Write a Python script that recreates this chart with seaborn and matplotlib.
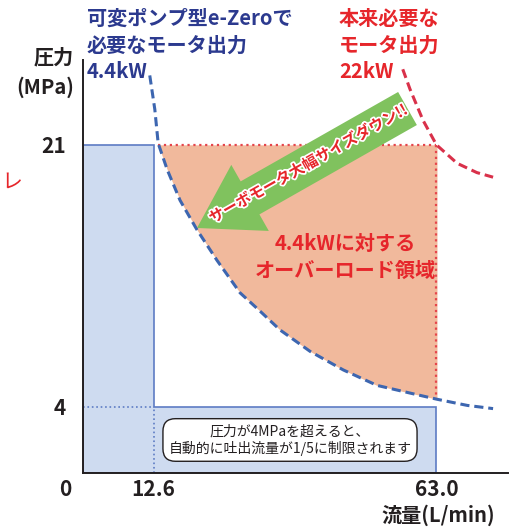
import numpy as np
import matplotlib
matplotlib.use('Agg')
import matplotlib.pyplot as plt
import seaborn as sns
from matplotlib.patches import Polygon, FancyArrow
from matplotlib import patheffects, transforms

# values
flow_ticks = [12.6, 63.0]          # L/min
pressure_ticks = [4, 21]           # MPa
flow_small, flow_full = flow_ticks
p_cut, p_max = pressure_ticks

# 4.4kW curve (variable pump e-Zero)
blue_q = [11.9, 12.8, 13.4, 15.0, 17.3, 20.3, 23.9, 28.0, 31.6, 35.1, 40.5, 46.4, 52.4, 58.3, 63.1, 68.5, 73.1]
blue_p = [25.5, 23.3, 21.1, 19.4, 17.4, 15.5, 13.5, 11.4, 10.2, 9.0, 7.6, 6.4, 5.4, 4.9, 4.5, 4.1, 3.9]
# 22kW curve (originally required)
red_q = [57.0, 58.3, 60.6, 63.0, 66.7, 70.2, 73.1]
red_p = [25.9, 24.6, 22.6, 21.0, 19.8, 19.2, 18.9]

BLUE_TXT = '#2C3A8F'
RED_TXT = '#E6262B'
DARK = '#231F20'

sns.set_style('white')
plt.rcParams['font.family'] = ['Noto Sans CJK JP', 'DejaVu Sans']

W, H = 514, 531
fig = plt.figure(figsize=(W / 100, H / 100), dpi=100)
ax = fig.add_axes([83 / W, 58 / H, 425 / W, 413 / H])

# y axis in the original is slightly stretched below 4 MPa
k = 16.5 / 15.41
def fwd(y):
    y = np.asarray(y, dtype=float)
    return np.where(y <= 4, y * k, 4 * k + (y - 4))
def inv(u):
    u = np.asarray(u, dtype=float)
    return np.where(u <= 4 * k, u / k, u - 4 * k + 4)
ax.set_yscale('function', functions=(fwd, inv))

# pump working area (L-shape)
area = Polygon([(0, 0), (0, p_max), (flow_small, p_max), (flow_small, p_cut),
                (flow_full, p_cut), (flow_full, 0)],
               closed=True, facecolor='#CEDBF0', edgecolor='#5D7CC4', lw=1.2, zorder=1)
ax.add_patch(area)
ax.plot([0, flow_small], [p_cut, p_cut], color='#5D7CC4', ls=':', lw=1.2, zorder=2)
ax.plot([flow_small, flow_small], [0, p_cut], color='#5D7CC4', ls=':', lw=1.2, zorder=2)

# overload area
oq = np.array(blue_q[2:15])
op = np.minimum(np.array(blue_p[2:15]), p_max)
ax.fill_between(oq, op, p_max, color='#F1B99C', lw=0, zorder=1)
ax.plot([oq[0], flow_full], [p_max, p_max], color='#E5454B', ls=':', lw=1.6, zorder=2)
ax.plot([flow_full, flow_full], [p_max, op[-1]], color='#E5454B', ls=':', lw=1.6, zorder=2)

# power curves
sns.lineplot(x=blue_q, y=blue_p, ax=ax, color='#3D66B0', lw=2.2,
             linestyle=(0, (3, 1.6)), zorder=3)
sns.lineplot(x=red_q, y=red_p, ax=ax, color='#D9314A', lw=2.2,
             linestyle=(0, (3, 1.6)), zorder=3)

ax.set_xlim(0, 75.76)
ax.set_ylim(0, 26.5)
ax.set_xticks(flow_ticks)
ax.set_xticklabels([f'{v:.1f}' for v in flow_ticks])
ax.set_yticks(pressure_ticks)
ax.set_yticklabels([str(v) for v in pressure_ticks])
ax.tick_params(length=0, labelsize=15, colors=DARK)
ax.xaxis.set_tick_params(pad=4)
ax.yaxis.set_tick_params(pad=12)
for lab in ax.get_xticklabels() + ax.get_yticklabels():
    lab.set_fontweight('bold')
for s in ['top', 'right']:
    ax.spines[s].set_visible(False)
for s in ['left', 'bottom']:
    ax.spines[s].set_color(DARK)
    ax.spines[s].set_linewidth(1.4)
ax.set_xlabel('')
ax.set_ylabel('')

def fx(x):
    return x / W
def fy(y):
    return 1 - y / H

fig.text(fx(65), fy(489), '0', ha='center', va='center', fontsize=15, fontweight='bold', color=DARK)
fig.text(fx(74), fy(72), '圧力\n(MPa)', ha='right', va='center', multialignment='right',
         fontsize=14.5, fontweight='bold', color=DARK, linespacing=1.5)
fig.text(fx(495), fy(515), '流量(L/min)', ha='right', va='center',
         fontsize=14.5, fontweight='bold', color=DARK)

fig.text(fx(87), fy(8), '可変ポンプ型e-Zeroで\n必要なモータ出力\n4.4kW', ha='left', va='top',
         fontsize=14.5, fontweight='bold', color=BLUE_TXT, linespacing=1.32)
fig.text(fx(339), fy(8), '本来必要な\nモータ出力\n22kW', ha='left', va='top',
         fontsize=14.5, fontweight='bold', color=RED_TXT, linespacing=1.32)
fig.text(fx(12), fy(182), 'レ', ha='center', va='center', fontsize=15, color=RED_TXT)

ax.text(46.7, 13.7, '4.4kWに対する\nオーバーロード領域', ha='center', va='center',
        fontsize=14.5, fontweight='bold', color=RED_TXT, linespacing=1.35, zorder=5)

ax.text(36.9, 2.0, '圧力が4MPaを超えると、\n自動的に吐出流量が1/5に制限されます', ha='center', va='center',
        fontsize=10, color=DARK, linespacing=1.2, zorder=5,
        bbox=dict(boxstyle='round,pad=0.4,rounding_size=0.9', fc='white', ec=DARK, lw=1.0))

# green arrow, drawn in image pixel coordinates (y down)
pix = transforms.Affine2D().scale(1, -1).translate(0, H).scale(1 / 100) + fig.dpi_scale_trans
arrow = FancyArrow(407.5, 108.5, -210.5, 119.5, width=38, head_width=76, head_length=61,
                   length_includes_head=True, color='#80C25E', lw=0, transform=pix, zorder=4)
ax.add_artist(arrow)
fig.text(fx(308), fy(164), 'サーボモータ大幅サイズダウン!!', ha='center', va='center',
         rotation=29.5, rotation_mode='anchor', fontsize=11, fontweight='bold', color=RED_TXT,
         path_effects=[patheffects.withStroke(linewidth=2.5, foreground='white')], zorder=6)

fig.savefig('out.png', dpi=100)
